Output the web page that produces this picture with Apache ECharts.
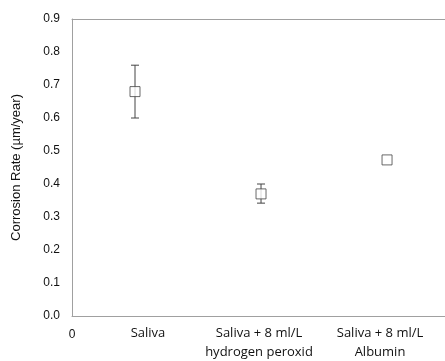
<!DOCTYPE html>
<html><head><meta charset="utf-8">
<script src="https://cdn.jsdelivr.net/npm/echarts@6/dist/echarts.min.js"></script>
<style>html,body{margin:0;padding:0;background:#fff}#c{width:445px;height:361px}</style>
</head><body><div id="c"></div>
<script>
const categories = ['Saliva', 'Saliva + 8 ml/L\nhydrogen peroxid', 'Saliva + 8 ml/L\nAlbumin'];
const xPositions = [1, 3, 5];
const means = [0.68, 0.37, 0.473];
const errLow = [0.60, 0.342, 0.473];
const errHigh = [0.76, 0.40, 0.473];
const yTicks = [0, 0.1, 0.2, 0.3, 0.4, 0.5, 0.6, 0.7, 0.8, 0.9];

const chart = echarts.init(document.getElementById('c'));
const pts = xPositions.map((x, i) => [x, means[i]]);
const errs = xPositions.map((x, i) => [x, errLow[i], errHigh[i]]);
const labelX = [148, 259, 380];
const axisGray = '#a0a0a0';
chart.setOption({
  animation: false,
  grid: {left: 72, top: 19, right: 0, bottom: 45},
  xAxis: [
    {type: 'value', min: 0, max: 5.92, interval: 10,
      axisLine: {show: true, onZero: false, lineStyle: {color: axisGray}}, axisTick: {show: false}, splitLine: {show: false},
      axisLabel: {showMaxLabel: false, color: '#111', fontFamily: 'Liberation Sans', fontSize: 12, margin: 13}},
    {type: 'value', position: 'top', min: 0, max: 5.92,
      axisLine: {show: true, onZero: false, lineStyle: {color: axisGray}}, axisTick: {show: false}, splitLine: {show: false},
      axisLabel: {show: false}}
  ],
  yAxis: {type: 'value', min: yTicks[0], max: yTicks[yTicks.length - 1], interval: 0.1,
    name: 'Corrosion Rate (µm/year)', nameLocation: 'middle', nameGap: 49,
    nameTextStyle: {color: '#111', fontFamily: 'Liberation Sans', fontSize: 13},
    axisLine: {show: true, lineStyle: {color: axisGray}}, axisTick: {show: false}, splitLine: {show: false},
    axisLabel: {formatter: v => v.toFixed(1), color: '#111', fontFamily: 'Liberation Sans', fontSize: 12, margin: 12}},
  graphic: categories.map((t, i) => ({type: 'text', x: labelX[i], y: 324,
    style: {text: t, textAlign: 'center', fill: '#111', font: '13px "Open Sans"', lineHeight: 19}})),
  series: [
    {type: 'custom', data: errs, z: 1,
      renderItem: (params, api) => {
        const x = api.value(0);
        const lo = api.coord([x, api.value(1)]);
        const hi = api.coord([x, api.value(2)]);
        if (Math.abs(lo[1] - hi[1]) < 1) return null;
        const c = 4;
        const st = {stroke: '#444', lineWidth: 1};
        return {type: 'group', children: [
          {type: 'line', shape: {x1: lo[0], y1: lo[1], x2: hi[0], y2: hi[1]}, style: st},
          {type: 'line', shape: {x1: lo[0] - c, y1: lo[1], x2: lo[0] + c, y2: lo[1]}, style: st},
          {type: 'line', shape: {x1: hi[0] - c, y1: hi[1], x2: hi[0] + c, y2: hi[1]}, style: st}
        ]};
      }},
    {type: 'scatter', data: pts, symbol: 'rect', symbolSize: 10, z: 3,
      itemStyle: {color: '#fff', borderColor: '#444', borderWidth: 1}}
  ]
});
</script></body></html>
